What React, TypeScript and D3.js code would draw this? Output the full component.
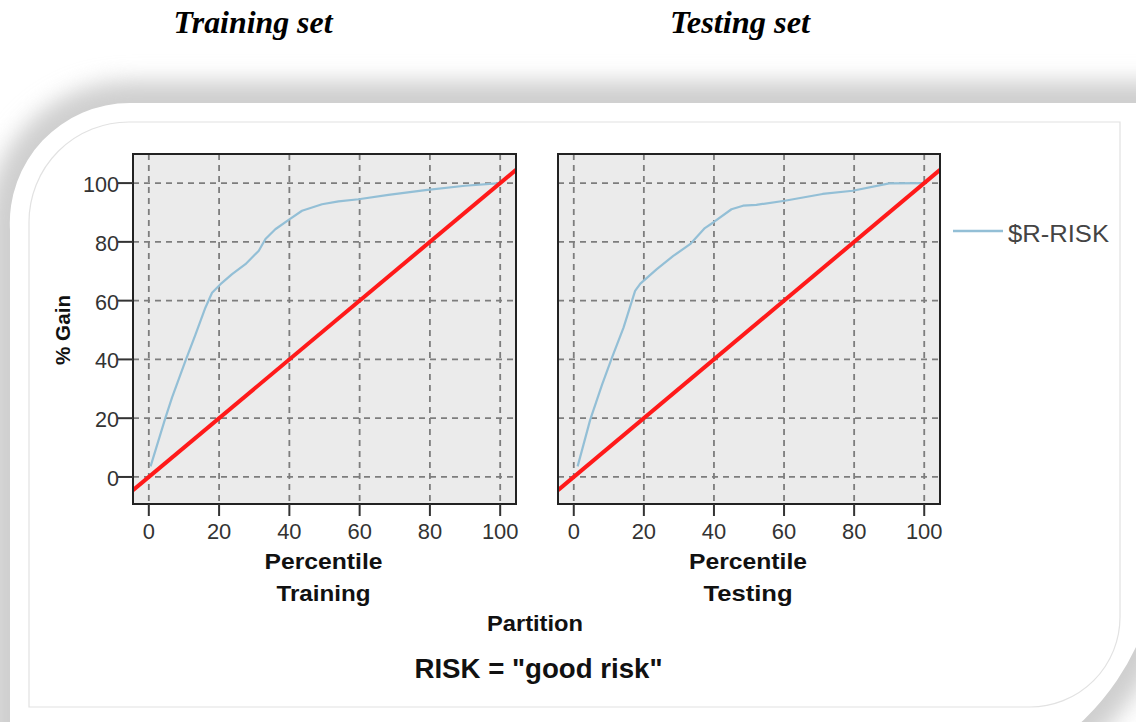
import React from "react";
import * as d3 from "d3";

const panelNames = ["Training", "Testing"];
const panelTitles = ["Training set", "Testing set"];
const xTicks = [0, 20, 40, 60, 80, 100];
const yTicks = [0, 20, 40, 60, 80, 100];

const trainX = [0.5, 4.7, 6.6, 10.4, 13.3, 16.1, 18, 20.4, 23.7, 27.5, 31.3, 33.2, 36, 39.8, 43.6, 49.3, 54, 59.7, 68.2, 78.7, 90, 100];
const trainY = [3.6, 20, 27, 39.4, 48.5, 57.6, 62.7, 65.6, 69, 72.4, 77, 81, 84.3, 87.5, 90.6, 92.8, 93.8, 94.5, 96, 97.6, 99.1, 100];
const testX = [1.1, 4.7, 8.1, 10.9, 14.2, 17.5, 19, 23.7, 28.4, 33.2, 37.4, 39.8, 45, 48.3, 52.1, 60.2, 71, 79.6, 90, 100];
const testY = [3.6, 19.5, 31.5, 40.6, 50.8, 63.3, 65.8, 70.7, 75.2, 79.2, 84.7, 86.6, 91.1, 92.3, 92.6, 94, 96.3, 97.4, 99.9, 100];
const baselineX = [-4.5, 104.5];

const seriesName = "$R-RISK";
const xTitle = "Percentile";
const partitionTitle = "Partition";
const yTitle = "% Gain";
const footer = 'RISK = "good risk"';

const BLUE = "#93bfd6";
const RED = "#ff1a1a";
const NARROW = "'Liberation Sans Narrow', 'Arial Narrow', 'Liberation Sans', Arial, sans-serif";

type Pt = { x: number; y: number };

function Panel({ left, right, name, xs, ys, showY }: { left: number; right: number; name: string; xs: number[]; ys: number[]; showY: boolean }) {
  const top = 154, bottom = 504;
  const x = d3.scaleLinear().domain([-4.5, 104.5]).range([left, right]);
  const y = d3.scaleLinear().domain([-9.2, 109.9]).range([bottom, top]);
  const pts: Pt[] = xs.map((v, i) => ({ x: v, y: ys[i] }));
  const line = d3.line<Pt>().x((d) => x(d.x)).y((d) => y(d.y));
  const base: Pt[] = baselineX.map((v) => ({ x: v, y: v }));
  const clipId = "clip-" + name;
  const cx = (left + right) / 2;
  return (
    <g>
      <defs>
        <clipPath id={clipId}>
          <rect x={left} y={top} width={right - left} height={bottom - top} />
        </clipPath>
      </defs>
      <rect x={left} y={top} width={right - left} height={bottom - top} fill="#ebebeb" />
      {xTicks.map((t) => (
        <line key={"gx" + t} x1={x(t)} x2={x(t)} y1={top} y2={bottom} stroke="#7d7d7d" strokeWidth={1.8} strokeDasharray="6,5" />
      ))}
      {yTicks.map((t) => (
        <line key={"gy" + t} x1={left} x2={right} y1={y(t)} y2={y(t)} stroke="#7d7d7d" strokeWidth={1.8} strokeDasharray="6,5" />
      ))}
      <g clipPath={`url(#${clipId})`}>
        <path d={line(pts) || ""} fill="none" stroke={BLUE} strokeWidth={2.2} strokeLinejoin="round" />
        <path d={line(base) || ""} fill="none" stroke={RED} strokeWidth={4} />
      </g>
      <rect x={left} y={top} width={right - left} height={bottom - top} fill="none" stroke="#222" strokeWidth={2} />
      {xTicks.map((t) => (
        <g key={"tx" + t}>
          <line x1={x(t)} x2={x(t)} y1={bottom} y2={bottom + 12} stroke="#333" strokeWidth={2} />
          <text x={x(t)} y={539} textAnchor="middle" fontFamily={NARROW} fontSize={22} fill="#333"
            textLength={String(t).length * 12.2} lengthAdjust="spacingAndGlyphs">{t}</text>
        </g>
      ))}
      {showY && yTicks.map((t) => (
        <g key={"ty" + t}>
          <line x1={left - 15} x2={left} y1={y(t)} y2={y(t)} stroke="#333" strokeWidth={2} />
          <text x={119} y={y(t) + 9} textAnchor="end" fontFamily={NARROW} fontSize={22} fill="#333"
            textLength={String(t).length * 12} lengthAdjust="spacingAndGlyphs">{t}</text>
        </g>
      ))}
      <text x={cx - 1} y={569} textAnchor="middle" fontFamily={NARROW} fontWeight="bold" fontSize={22} fill="#111"
        textLength={118} lengthAdjust="spacingAndGlyphs">{xTitle}</text>
      <text x={cx - 1} y={601} textAnchor="middle" fontFamily={NARROW} fontWeight="bold" fontSize={22} fill="#111"
        textLength={name === "Training" ? 94 : 89} lengthAdjust="spacingAndGlyphs">{name}</text>
    </g>
  );
}

export default function App() {
  const cardPath = "M10,230 A120,120 0 0 1 130,103 L1160,103 L1160,540 A250,250 0 0 1 906,790 L10,790 Z";
  const innerPath = "M29,222 A100,100 0 0 1 129,122 L1120,122 L1120,617 A90,90 0 0 1 1030,707 L29,707 Z";
  return (
    <svg width={1136} height={722} style={{ position: "absolute", left: 0, top: 0, display: "block" }}>
      <defs>
        <filter id="shadow" x="-10%" y="-20%" width="120%" height="140%">
          <feGaussianBlur stdDeviation="11" />
        </filter>
      </defs>
      <rect x={0} y={0} width={1136} height={722} fill="#ffffff" />
      <path d={cardPath} fill="#cfcfcf" stroke="#cfcfcf" strokeWidth={44} filter="url(#shadow)" />
      <path d={cardPath} fill="#ffffff" />
      <path d={innerPath} fill="#ffffff" stroke="#e2e2e2" strokeWidth={1.2} />

      <text x={253} y={33} textAnchor="middle" fontFamily="'Liberation Serif', 'Times New Roman', serif" fontStyle="italic" fontWeight="bold" fontSize={31}
        textLength={159} lengthAdjust="spacingAndGlyphs">{panelTitles[0]}</text>
      <text x={740} y={33} textAnchor="middle" fontFamily="'Liberation Serif', 'Times New Roman', serif" fontStyle="italic" fontWeight="bold" fontSize={31}
        textLength={140} lengthAdjust="spacingAndGlyphs">{panelTitles[1]}</text>

      <Panel left={133} right={516} name={panelNames[0]} xs={trainX} ys={trainY} showY={true} />
      <Panel left={558} right={940} name={panelNames[1]} xs={testX} ys={testY} showY={false} />

      <text transform="translate(70,330) rotate(-90)" textAnchor="middle" fontFamily={NARROW} fontWeight="bold" fontSize={21} fill="#111"
        textLength={70} lengthAdjust="spacingAndGlyphs">{yTitle}</text>

      <text x={535} y={631} textAnchor="middle" fontFamily={NARROW} fontWeight="bold" fontSize={22} fill="#111"
        textLength={96} lengthAdjust="spacingAndGlyphs">{partitionTitle}</text>
      <text x={538.5} y={678} textAnchor="middle" fontFamily={NARROW} fontWeight="bold" fontSize={27} fill="#111"
        textLength={248} lengthAdjust="spacingAndGlyphs">{footer}</text>

      <line x1={953} x2={1003} y1={231} y2={231} stroke={BLUE} strokeWidth={2.5} />
      <text x={1008} y={242} fontFamily={NARROW} fontSize={23} fill="#444"
        textLength={101} lengthAdjust="spacingAndGlyphs">{seriesName}</text>
    </svg>
  );
}
